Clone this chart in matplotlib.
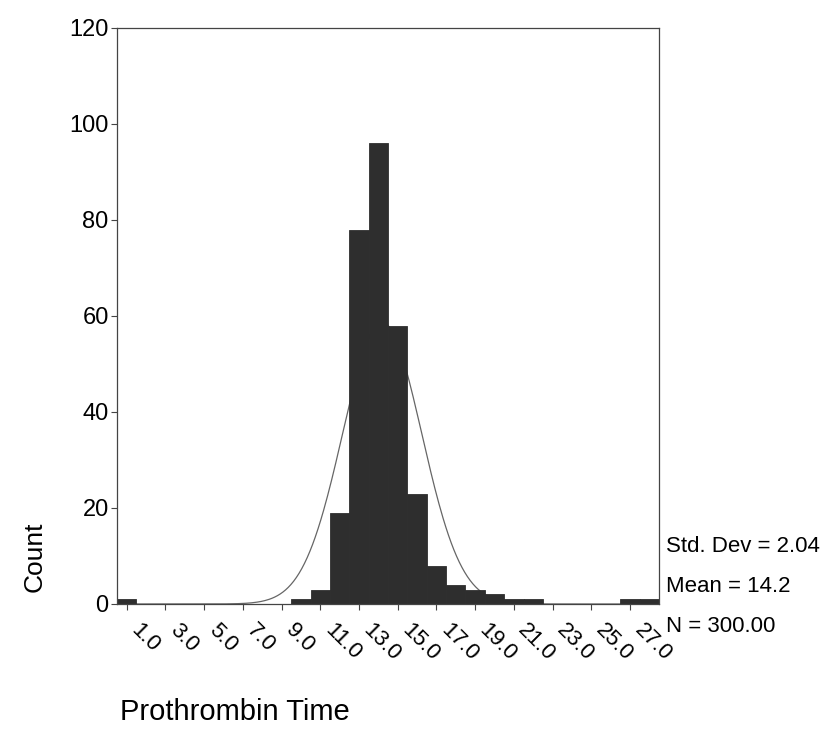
import numpy as np
import matplotlib
matplotlib.use("Agg")
import matplotlib.pyplot as plt

# histogram bins (width 1.0, centred on the value) and counts
bin_centers = [1, 10, 11, 12, 13, 14, 15, 16, 17, 18, 19, 20, 21, 22, 27, 28]
counts = [1, 1, 3, 19, 78, 96, 58, 23, 8, 4, 3, 2, 1, 1, 1, 1]

x_tick_values = [1, 3, 5, 7, 9, 11, 13, 15, 17, 19, 21, 23, 25, 27]
x_tick_labels = ["1.0", "3.0", "5.0", "7.0", "9.0", "11.0", "13.0", "15.0",
                 "17.0", "19.0", "21.0", "23.0", "25.0", "27.0"]
y_tick_values = [0, 20, 40, 60, 80, 100, 120]

std_dev = 2.04
mean = 14.2
n_cases = 300
stats_lines = ["Std. Dev = 2.04", "Mean = 14.2", "N = 300.00"]

plt.rcParams["font.family"] = ["Liberation Sans", "DejaVu Sans"]

fig = plt.figure(figsize=(8.3, 7.3), dpi=100)
ax = fig.add_axes([117 / 830, 1 - 604 / 730, 542 / 830, 576 / 730])

# fitted normal curve, behind the bars
xs = np.linspace(0.5, 28.5, 400)
curve = n_cases * 1.0 * np.exp(-0.5 * ((xs - mean) / std_dev) ** 2) / (std_dev * np.sqrt(2 * np.pi))
ax.plot(xs, curve, color="#666666", linewidth=0.9, zorder=1)

ax.bar(bin_centers, counts, width=1.0, color="#2e2e2e", edgecolor="#2e2e2e",
       linewidth=0.6, zorder=2)

ax.set_xlim(0.5, 28.5)
ax.set_ylim(0, 120)

ax.set_yticks(y_tick_values)
ax.set_yticklabels([str(v) for v in y_tick_values], fontsize=17)
ax.set_xticks(x_tick_values)
ax.set_xticklabels(x_tick_labels, fontsize=16, rotation=-45, ha="left", va="top")

ax.tick_params(axis="both", direction="out", length=4, width=0.8, color="#444444")
ax.tick_params(axis="x", pad=7)
ax.tick_params(axis="y", pad=2)

for side in ax.spines.values():
    side.set_linewidth(0.9)
    side.set_color("#444444")

# statistics text to the right of the plot
for i, line in enumerate(stats_lines):
    fig.text(666 / 830, 1 - (547 + i * 40) / 730, line, fontsize=16,
             ha="left", va="center")

fig.text(35 / 830, 1 - 557 / 730, "Count", fontsize=19, rotation=90,
         ha="center", va="center")
fig.text(120 / 830, 1 - 712 / 730, "Prothrombin Time", fontsize=21,
         ha="left", va="center")

fig.savefig("out.png", dpi=100, facecolor="white")
